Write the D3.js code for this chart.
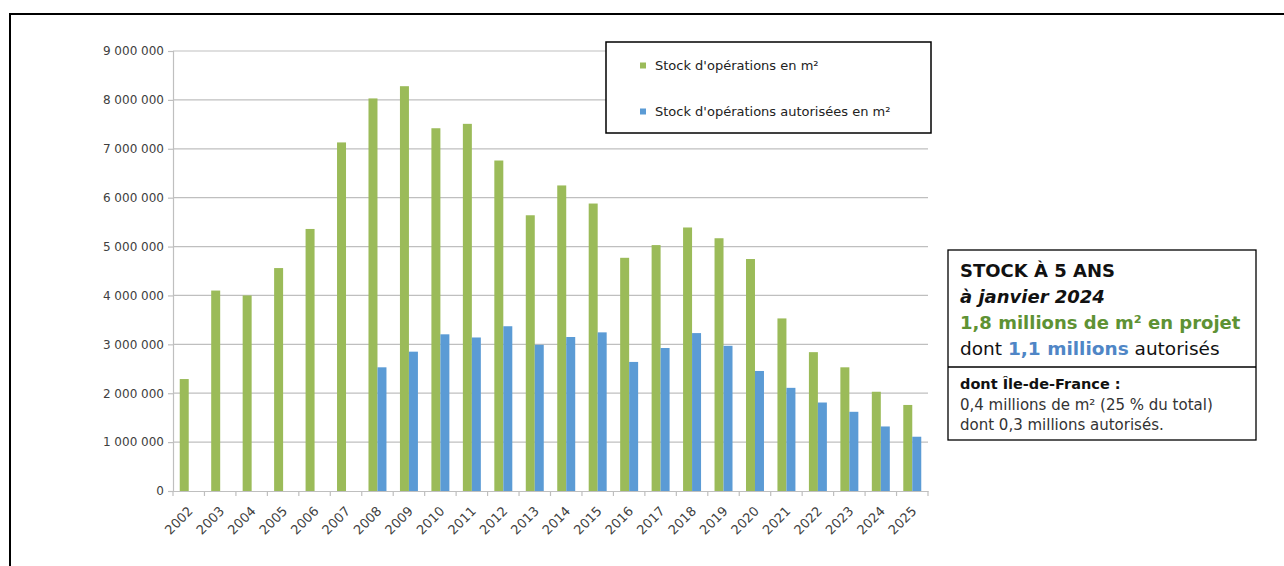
<!DOCTYPE html>
<html>
<head>
<meta charset="utf-8">
<script src="https://cdn.jsdelivr.net/npm/d3@7"></script>
<style>
  html, body { margin: 0; padding: 0; background: #fff; }
  svg { display: block; }
  text { font-family: "DejaVu Sans", sans-serif; }
</style>
</head>
<body>
<svg id="chart" width="1284" height="566"></svg>
<script>
const years = ["2002","2003","2004","2005","2006","2007","2008","2009","2010","2011","2012","2013","2014","2015","2016","2017","2018","2019","2020","2021","2022","2023","2024","2025"];
const stockTotal = [2290000,4100000,4000000,4560000,5360000,7130000,8030000,8280000,7420000,7510000,6760000,5640000,6250000,5880000,4770000,5030000,5390000,5170000,4745000,3530000,2840000,2530000,2030000,1760000];
const stockAutorise = [null,null,null,null,null,null,2530000,2850000,3205000,3140000,3370000,2990000,3150000,3245000,2640000,2925000,3230000,2970000,2455000,2110000,1810000,1620000,1320000,1110000];
const seriesNames = ["Stock d'opérations en m²", "Stock d'opérations autorisées en m²"];
const yTicks = [0,1000000,2000000,3000000,4000000,5000000,6000000,7000000,8000000,9000000];

const colors = ["#9bbb59", "#5b9bd5"];
const svg = d3.select("#chart");

svg.append("rect").attr("width",1284).attr("height",566).attr("fill","#fff");
// outer frame
svg.append("path").attr("d","M10,566 V14 H1284").attr("fill","none").attr("stroke","#000").attr("stroke-width",2);

const x0 = 173, x1 = 928, yTop = 51, yBot = 491;
const x = d3.scaleBand().domain(years).range([x0, x1]).paddingInner(0).paddingOuter(0);
const xs = d3.scaleBand().domain(["total","auth"]).range([0, x.bandwidth()]).paddingInner(0).paddingOuter(0.75);
const y = d3.scaleLinear().domain([0, 9000000]).range([yBot, yTop]);

const locale = d3.formatLocale({decimal: ",", thousands: " ", grouping: [3], currency: ["", " €"]});
const fmt = locale.format(",d");

// gridlines
svg.append("g").selectAll("line").data(yTicks.filter(d => d > 0)).join("line")
  .attr("x1", x0).attr("x2", x1)
  .attr("y1", d => y(d)).attr("y2", d => y(d))
  .attr("stroke", "#bfbfbf").attr("stroke-width", 1.2);

// y axis
const yAxis = svg.append("g").attr("transform", `translate(${x0},0)`)
  .call(d3.axisLeft(y).tickValues(yTicks).tickFormat(fmt).tickSize(5).tickPadding(4));
yAxis.select(".domain").attr("stroke", "#bfbfbf").attr("stroke-width", 1.2);
yAxis.selectAll(".tick line").attr("stroke", "#bfbfbf").attr("stroke-width", 1.2);
yAxis.selectAll("text").attr("font-size", 12).attr("fill", "#404040").attr("font-family", "DejaVu Sans");

// bars
const barData = [];
years.forEach((yr, i) => {
  barData.push({year: yr, key: "total", value: stockTotal[i], color: colors[0]});
  if (stockAutorise[i] != null) barData.push({year: yr, key: "auth", value: stockAutorise[i], color: colors[1]});
});
svg.append("g").selectAll("rect").data(barData).join("rect")
  .attr("x", d => x(d.year) + xs(d.key))
  .attr("width", xs.bandwidth())
  .attr("y", d => y(d.value))
  .attr("height", d => y(0) - y(d.value))
  .attr("fill", d => d.color);

// x axis
const xAxis = svg.append("g").attr("transform", `translate(0,${yBot})`)
  .call(d3.axisBottom(x).tickSize(0).tickFormat(d => d));
xAxis.select(".domain").attr("stroke", "#bfbfbf").attr("stroke-width", 1.2);
xAxis.selectAll(".tick text")
  .attr("font-size", 13).attr("fill", "#404040").attr("font-family", "DejaVu Sans")
  .attr("text-anchor", "end")
  .attr("dy", 0).attr("y", 0)
  .attr("transform", "translate(5,21) rotate(-45)");
// boundary ticks
svg.append("g").selectAll("line").data(years.concat(["__end"])).join("line")
  .attr("x1", d => d === "__end" ? x1 : x(d))
  .attr("x2", d => d === "__end" ? x1 : x(d))
  .attr("y1", yBot).attr("y2", yBot + 5)
  .attr("stroke", "#bfbfbf").attr("stroke-width", 1.2);

// legend
const leg = svg.append("g");
leg.append("rect").attr("x", 606).attr("y", 42).attr("width", 325).attr("height", 91)
  .attr("fill", "#fff").attr("stroke", "#000").attr("stroke-width", 1.5);
seriesNames.forEach((name, i) => {
  const ly = 66 + i * 46;
  leg.append("rect").attr("x", 640).attr("y", ly - 3.5).attr("width", 6).attr("height", 6).attr("fill", colors[i]);
  leg.append("text").attr("x", 655).attr("y", ly + 4).attr("font-size", 13).attr("fill", "#222").text(name);
});

// annotation box
const ann = svg.append("g");
ann.append("rect").attr("x", 948).attr("y", 250).attr("width", 308).attr("height", 190)
  .attr("fill", "#fff").attr("stroke", "#000").attr("stroke-width", 1.3);
ann.append("line").attr("x1", 948).attr("x2", 1256).attr("y1", 367).attr("y2", 367)
  .attr("stroke", "#000").attr("stroke-width", 1.3);
ann.append("text").attr("x", 960).attr("y", 277).attr("font-size", 18).attr("font-weight", "bold").attr("fill", "#111").text("STOCK À 5 ANS");
ann.append("text").attr("x", 960).attr("y", 303).attr("font-size", 18).attr("font-weight", "bold").attr("font-style", "italic").attr("fill", "#111").text("à janvier 2024");
ann.append("text").attr("x", 960).attr("y", 329).attr("font-size", 18).attr("font-weight", "bold").attr("fill", "#5e9234").text("1,8 millions de m² en projet");
const t4 = ann.append("text").attr("x", 960).attr("y", 355).attr("font-size", 18.5).attr("fill", "#111");
t4.append("tspan").text("dont ");
t4.append("tspan").attr("font-weight", "bold").attr("fill", "#4f86c6").text("1,1 millions");
t4.append("tspan").text(" autorisés");
ann.append("text").attr("x", 960).attr("y", 389).attr("font-size", 14.5).attr("font-weight", "bold").attr("fill", "#111").text("dont Île-de-France :");
ann.append("text").attr("x", 960).attr("y", 410).attr("font-size", 15).attr("fill", "#333").text("0,4 millions de m² (25 % du total)");
ann.append("text").attr("x", 960).attr("y", 430).attr("font-size", 15).attr("fill", "#333").text("dont 0,3 millions autorisés.");
</script>
</body>
</html>
